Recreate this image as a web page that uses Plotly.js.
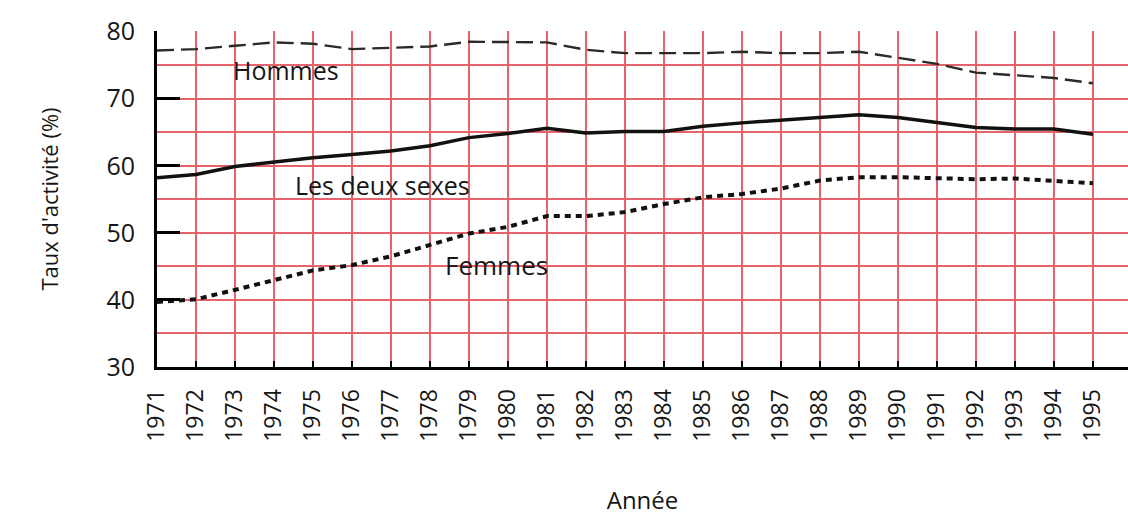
<!DOCTYPE html>
<html>
<head>
<meta charset="utf-8">
<script src="https://cdn.plot.ly/plotly-3.0.1.min.js"></script>
<style>html,body{margin:0;padding:0;background:#fff;}#chart{width:1128px;height:531px;}</style>
</head>
<body>
<div id="chart"></div>
<script>
const years = [1971,1972,1973,1974,1975,1976,1977,1978,1979,1980,1981,1982,1983,1984,1985,1986,1987,1988,1989,1990,1991,1992,1993,1994,1995];
const hommes = [77.2,77.4,77.9,78.4,78.2,77.4,77.6,77.8,78.5,78.4,78.4,77.3,76.8,76.8,76.8,77.0,76.8,76.8,77.0,76.1,75.2,73.9,73.5,73.1,72.3];
const deuxSexes = [58.2,58.7,59.9,60.6,61.2,61.7,62.2,63.0,64.2,64.8,65.6,64.9,65.1,65.1,65.9,66.4,66.8,67.2,67.6,67.2,66.5,65.7,65.5,65.5,64.7];
const femmes = [39.7,40.1,41.5,42.9,44.4,45.2,46.5,48.2,49.9,50.9,52.5,52.5,53.1,54.3,55.3,55.8,56.6,57.8,58.3,58.3,58.1,58.0,58.1,57.7,57.4];
const yTicks = [30,40,50,60,70,80];
const yGrid = [30,35,40,45,50,55,60,65,70,75,80];
const seriesLabels = ["Hommes","Les deux sexes","Femmes"];

const FONT = "Open Sans, DejaVu Sans, sans-serif";
const GRID = "#e6636c";
const INK = "#161616";

const traces = [
  {x: [], y: [], yaxis: "y2", mode: "lines", hoverinfo: "skip"},
  {x: years, y: hommes, name: seriesLabels[0], mode: "lines",
   line: {color: "#2a2a2a", width: 2.4, dash: "17px,7px"}},
  {x: years, y: deuxSexes, name: seriesLabels[1], mode: "lines",
   line: {color: "#111", width: 3.5}},
  {x: years, y: femmes, name: seriesLabels[2], mode: "lines",
   line: {color: "#111", width: 4, dash: "6px,5px"}}
];

const layout = {
  width: 1128, height: 531,
  margin: {l: 157, r: 0, t: 31, b: 164},
  paper_bgcolor: "#fff", plot_bgcolor: "#fff",
  showlegend: false,
  font: {family: FONT, color: INK},
  xaxis: {
    range: [1971, 1995.9],
    tickvals: years, ticktext: years.map(String),
    tickangle: -90,
    tickfont: {size: 23, color: INK, family: FONT},
    ticks: "inside", ticklen: 6, tickwidth: 2.5, tickcolor: "#000",
    ticklabelstandoff: 10,
    showgrid: true, gridcolor: GRID, gridwidth: 1.6,
    showline: true, linecolor: "#000", linewidth: 3,
    zeroline: false,
    title: {text: "Année", font: {size: 24, color: INK, family: FONT}, standoff: 52},
    automargin: false
  },
  yaxis: {
    range: [30, 80.1],
    tickvals: yTicks,
    tickfont: {size: 25, color: INK, family: FONT},
    ticks: "inside", ticklen: 23, tickwidth: 3, tickcolor: "#000",
    ticklabelstandoff: 14,
    showgrid: false,
    showline: true, linecolor: "#000", linewidth: 3,
    zeroline: false,
    title: {text: "Taux d'activité (%)", font: {size: 22, color: INK, family: FONT}, standoff: 42},
    automargin: false
  },
  yaxis2: {
    overlaying: "y", side: "left",
    range: [30, 80.1],
    tickvals: yGrid,
    showticklabels: false, ticks: "",
    showgrid: true, gridcolor: GRID, gridwidth: 2,
    showline: false, zeroline: false
  },
  annotations: [
    {x: 1974.3, y: 74.3, text: seriesLabels[0], showarrow: false, xanchor: "center", yanchor: "middle",
     font: {size: 25, color: INK, family: FONT}},
    {x: 1976.77, y: 57.1, text: seriesLabels[1], showarrow: false, xanchor: "center", yanchor: "middle",
     font: {size: 25, color: INK, family: FONT}},
    {x: 1979.7, y: 45.2, text: seriesLabels[2], showarrow: false, xanchor: "center", yanchor: "middle",
     font: {size: 26, color: INK, family: FONT}}
  ]
};

Plotly.newPlot("chart", traces, layout, {displayModeBar: false, staticPlot: true});
</script>
</body>
</html>
